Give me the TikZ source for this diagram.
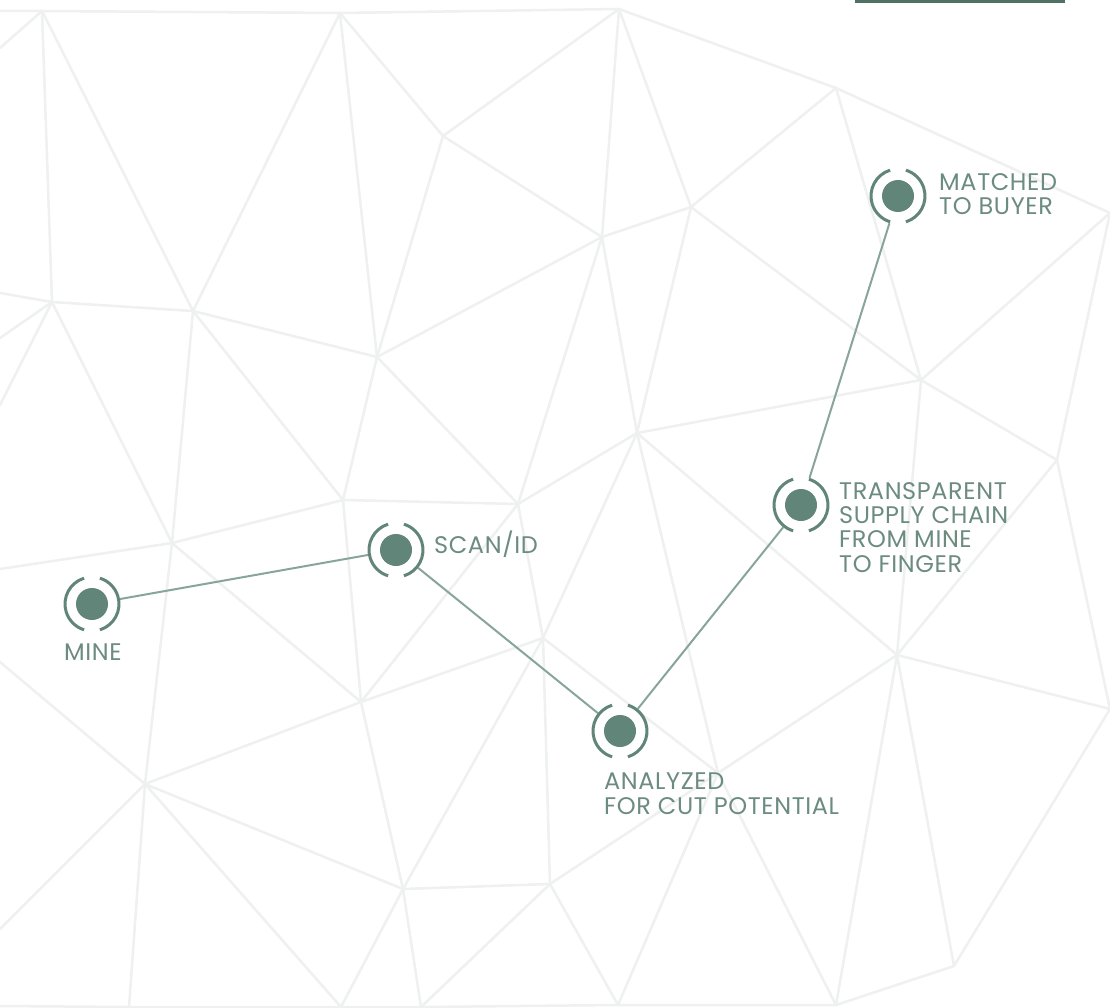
\documentclass[tikz,border=0pt]{standalone}
\usepackage{fontspec}
\setmainfont[LetterSpace=2.5]{Poppins}
\definecolor{meshc}{HTML}{EEF1EF}
\definecolor{dotc}{HTML}{62857A}
\definecolor{linkc}{HTML}{88A59A}
\definecolor{txtc}{HTML}{6C8C80}
\definecolor{barc}{HTML}{4F7263}
\tikzset{
  mesh/.style={draw=meshc, line width=2.5pt, line cap=round, line join=round},
  marker/.style={circle, minimum size=57pt, inner sep=0pt, outer sep=0pt},
  link/.style={draw=linkc, line width=2pt},
  lbl/.style={text=txtc, font=\fontsize{24}{24.3}\selectfont, inner sep=0pt, align=left, anchor=base west},
}
\begin{document}
\begin{tikzpicture}[x=1pt,y=-1pt]
\useasboundingbox (0,0) rectangle (1110,1008);
\fill[white] (0,0) rectangle (1110,1008);
% mesh vertices
\coordinate (A) at (42,11);
\coordinate (B) at (340,13);
\coordinate (C) at (619,9);
\coordinate (D) at (836,88);
\coordinate (O) at (1110,213);
\coordinate (F) at (443,136);
\coordinate (G) at (691,207);
\coordinate (H) at (602,237);
\coordinate (I) at (52,302);
\coordinate (J) at (193,311);
\coordinate (K) at (377,357);
\coordinate (L) at (637,433);
\coordinate (M) at (921,380);
\coordinate (N) at (1057,460);
\coordinate (P) at (518,504);
\coordinate (Q) at (172,543);
\coordinate (R) at (343,500);
\coordinate (S) at (361,702);
\coordinate (T) at (543,638);
\coordinate (U) at (145,784);
\coordinate (V) at (403,889);
\coordinate (W) at (550,884);
\coordinate (AA) at (718,773);
\coordinate (X) at (897,655);
\coordinate (Z) at (1110,709);
\coordinate (Y) at (954,966);
\coordinate (b0) at (0,1006);
\coordinate (b1) at (129,1007);
\coordinate (b2) at (341,1007);
\coordinate (b3) at (421,1007);
\coordinate (b4) at (618,1005);
\coordinate (b5) at (836,1005);
\coordinate (l0) at (0,11);
\coordinate (l1) at (0,48);
\coordinate (l2) at (0,293);
\coordinate (l3) at (0,338);
\coordinate (l4) at (0,405);
\coordinate (l5) at (0,569);
\coordinate (l6) at (0,662);
\coordinate (l7) at (0,929);
% mesh edges
\path[mesh] (l0) -- (A) -- (B) -- (C) -- (D) -- (O);
\path[mesh] (b0) -- (b1) -- (b2) -- (b3) -- (b4) -- (b5) -- (Y);
\foreach \a/\b in {A/l1,A/I,A/J,B/J,B/F,B/K,C/F,C/H,C/G,D/G,D/M,O/M,O/N,
  F/H,F/K,G/H,G/L,G/M,H/K,H/L,H/P,I/J,I/Q,I/l2,I/l3,I/l4,J/K,J/Q,J/R,
  K/R,K/P,L/M,L/X,L/T,L/P,L/AA,M/X,M/N,N/X,N/Z,P/R,P/S,P/T,Q/R,Q/S,Q/U,Q/l5,
  R/S,S/T,S/U,S/V,T/V,T/W,T/AA,U/V,U/l6,U/l7,U/b1,U/b2,V/W,V/b2,V/b3,
  W/AA,W/b3,W/b4,AA/X,AA/b4,AA/b5,X/Z,X/Y,X/b5,Z/Y}
  {\path[mesh] (\a) -- (\b);}
% top bar
\fill[barc] (855,0) rectangle (1065,3);
% markers
\node[marker] (mine) at (92,604) {};
\node[marker] (scan) at (396,550) {};
\node[marker] (anal) at (620,731) {};
\node[marker] (trans) at (801,505) {};
\node[marker] (match) at (898,196) {};
% connectors
\draw[link] (mine) -- (scan);
\draw[link] (scan) -- (anal);
\draw[link] (anal) -- (trans);
\draw[link] (trans) -- (match);
\foreach \n in {mine,scan,anal,trans,match}{
  \fill[dotc] (\n.center) circle (16pt);
  \draw[dotc, line width=3pt] ([shift={(107:27pt)}]\n.center) arc[start angle=107, end angle=253, radius=27pt];
  \draw[dotc, line width=3pt] ([shift={(-73:27pt)}]\n.center) arc[start angle=-73, end angle=73, radius=27pt];
}
% labels (base anchor = baseline of last line)
\node[lbl] (tmine) at (64,660) {MINE};
\node[lbl] (tscan) at (434,553) {SCAN/ID};
\node[lbl] (tanal) at (604,814) {ANALYZED\\FOR CUT POTENTIAL};
\node[lbl] (ttrans) at (839,572) {TRANSPARENT\\SUPPLY CHAIN\\FROM MINE\\TO FINGER};
\node[lbl] (tmatch) at (939,215) {MATCHED\\TO BUYER};
\end{tikzpicture}
\end{document}
